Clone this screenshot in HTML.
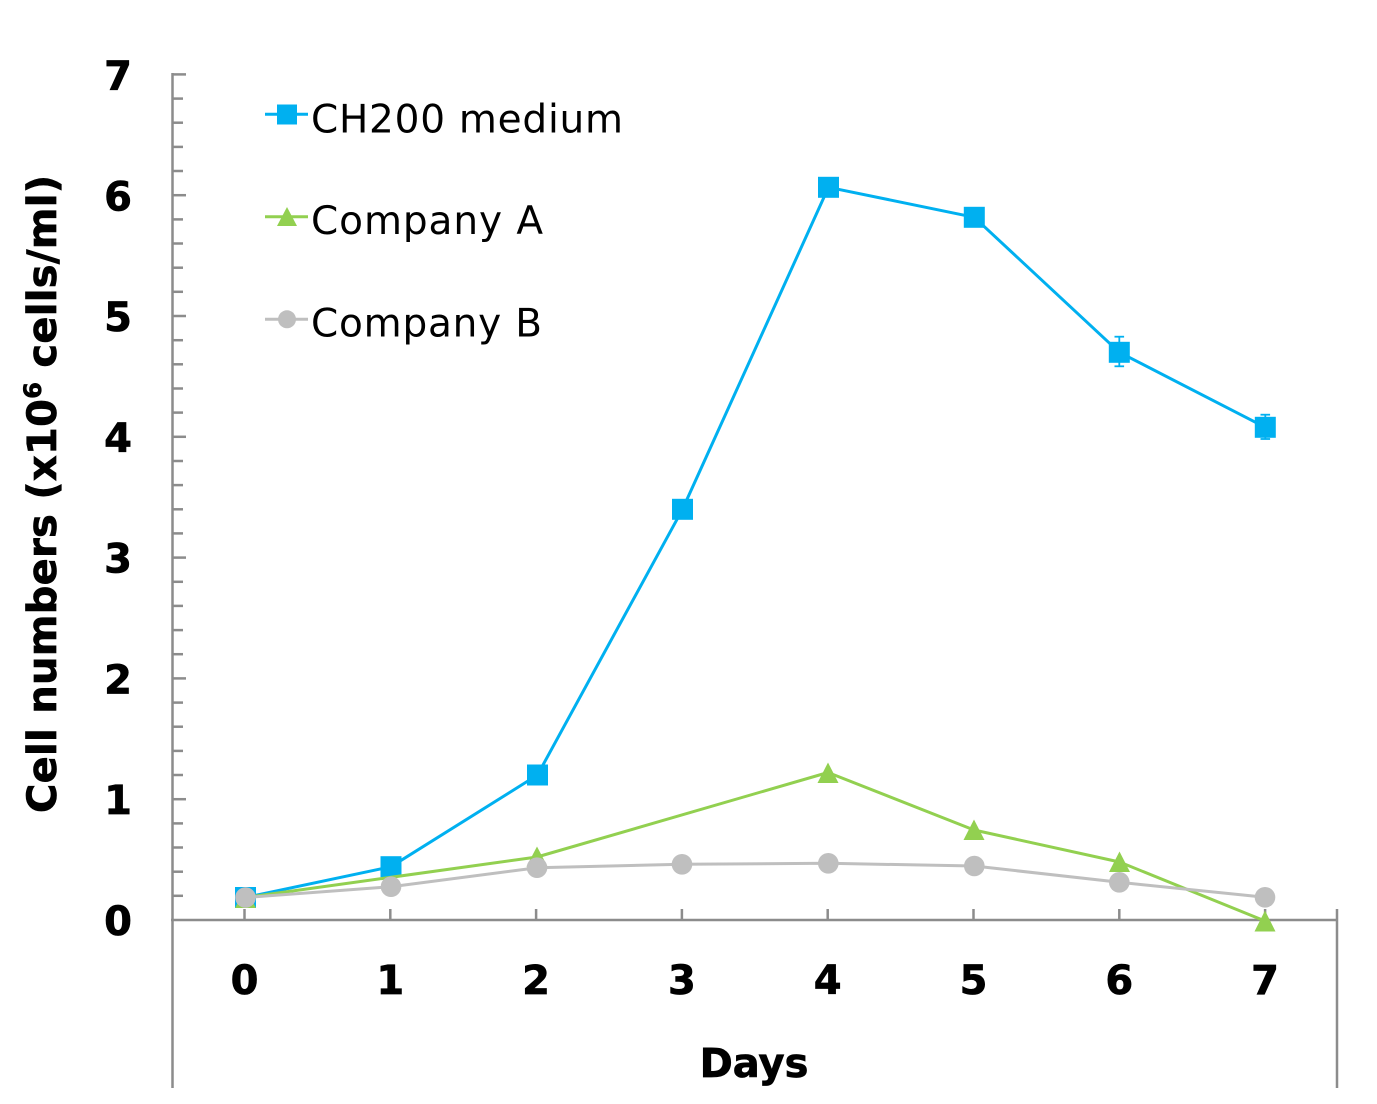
<!DOCTYPE html>
<html>
<head>
<meta charset="utf-8">
<style>
  html, body { margin: 0; padding: 0; background: #ffffff; }
  svg { display: block; }
  text { font-family: "DejaVu Sans", "Liberation Sans", sans-serif; fill: #000; }
  .b { font-weight: bold; font-size: 40px; stroke: #000; stroke-width: 0.7px; }
  .leg { font-size: 39px; }
</style>
</head>
<body>
<svg width="1377" height="1104" viewBox="0 0 1377 1104" xmlns="http://www.w3.org/2000/svg">
  <rect x="0" y="0" width="1377" height="1104" fill="#ffffff"/>

  <!-- Axes -->
  <g stroke="#8c8c8c" stroke-width="2.5" fill="none">
    <line x1="172.5" y1="73" x2="172.5" y2="1088"/>
    <line x1="171" y1="920" x2="1338" y2="920"/>
    <line x1="1337" y1="909" x2="1337" y2="1088"/>
    <!-- major y ticks -->
    <line x1="172" y1="74.4" x2="186" y2="74.4"/>
    <line x1="172" y1="195.2" x2="186" y2="195.2"/>
    <line x1="172" y1="316" x2="186" y2="316"/>
    <line x1="172" y1="436.8" x2="186" y2="436.8"/>
    <line x1="172" y1="557.6" x2="186" y2="557.6"/>
    <line x1="172" y1="678.4" x2="186" y2="678.4"/>
    <line x1="172" y1="799.2" x2="186" y2="799.2"/>
    <!-- minor y ticks -->
    <line x1="172" y1="98.6" x2="183" y2="98.6"/><line x1="172" y1="122.7" x2="183" y2="122.7"/><line x1="172" y1="146.9" x2="183" y2="146.9"/><line x1="172" y1="171.0" x2="183" y2="171.0"/>
    <line x1="172" y1="219.4" x2="183" y2="219.4"/><line x1="172" y1="243.5" x2="183" y2="243.5"/><line x1="172" y1="267.7" x2="183" y2="267.7"/><line x1="172" y1="291.8" x2="183" y2="291.8"/>
    <line x1="172" y1="340.2" x2="183" y2="340.2"/><line x1="172" y1="364.3" x2="183" y2="364.3"/><line x1="172" y1="388.5" x2="183" y2="388.5"/><line x1="172" y1="412.6" x2="183" y2="412.6"/>
    <line x1="172" y1="461.0" x2="183" y2="461.0"/><line x1="172" y1="485.1" x2="183" y2="485.1"/><line x1="172" y1="509.3" x2="183" y2="509.3"/><line x1="172" y1="533.4" x2="183" y2="533.4"/>
    <line x1="172" y1="581.8" x2="183" y2="581.8"/><line x1="172" y1="605.9" x2="183" y2="605.9"/><line x1="172" y1="630.1" x2="183" y2="630.1"/><line x1="172" y1="654.2" x2="183" y2="654.2"/>
    <line x1="172" y1="702.6" x2="183" y2="702.6"/><line x1="172" y1="726.7" x2="183" y2="726.7"/><line x1="172" y1="750.9" x2="183" y2="750.9"/><line x1="172" y1="775.0" x2="183" y2="775.0"/>
    <line x1="172" y1="823.4" x2="183" y2="823.4"/><line x1="172" y1="847.5" x2="183" y2="847.5"/><line x1="172" y1="871.7" x2="183" y2="871.7"/><line x1="172" y1="895.8" x2="183" y2="895.8"/>
    <!-- x ticks -->
    <line x1="244.5" y1="909" x2="244.5" y2="920"/>
    <line x1="390.3" y1="909" x2="390.3" y2="920"/>
    <line x1="536.1" y1="909" x2="536.1" y2="920"/>
    <line x1="681.9" y1="909" x2="681.9" y2="920"/>
    <line x1="827.7" y1="909" x2="827.7" y2="920"/>
    <line x1="973.5" y1="909" x2="973.5" y2="920"/>
    <line x1="1119.3" y1="909" x2="1119.3" y2="920"/>
    <line x1="1265.1" y1="909" x2="1265.1" y2="920"/>
  </g>

  <!-- Y tick labels -->
  <g text-anchor="end">
    <text class="b" x="132" y="89.5">7</text>
    <text class="b" x="132" y="210.3">6</text>
    <text class="b" x="132" y="331">5</text>
    <text class="b" x="132" y="451.8">4</text>
    <text class="b" x="132" y="572.6">3</text>
    <text class="b" x="132" y="693.4">2</text>
    <text class="b" x="132" y="814.2">1</text>
    <text class="b" x="132" y="935">0</text>
  </g>

  <!-- X tick labels -->
  <g text-anchor="middle">
    <text class="b" x="244.5" y="994">0</text>
    <text class="b" x="390.3" y="994">1</text>
    <text class="b" x="536.1" y="994">2</text>
    <text class="b" x="681.9" y="994">3</text>
    <text class="b" x="827.7" y="994">4</text>
    <text class="b" x="973.5" y="994">5</text>
    <text class="b" x="1119.3" y="994">6</text>
    <text class="b" x="1265.1" y="994">7</text>
  </g>

  <!-- Axis titles -->
  <text class="b" x="754" y="1077" text-anchor="middle">Days</text>
  <text class="b" transform="translate(56,813) rotate(-90)" x="0" y="0" textLength="638" lengthAdjust="spacing">Cell numbers (x10<tspan font-size="24" dy="-15">6</tspan><tspan dy="15"> cells/ml)</tspan></text>

  <!-- Blue series: CH200 medium -->
  <polyline fill="none" stroke="#00b0f0" stroke-width="3" stroke-linejoin="round"
    points="245.5,897.5 391,866.7 537.5,775 682.5,509.3 828.5,187.3 974.3,217.3 1119.3,352.3 1265.3,427.3"/>
  <g stroke="#00b0f0" stroke-width="1.8">
    <line x1="1119.3" y1="336.7" x2="1119.3" y2="366.3"/>
    <line x1="1114.5" y1="336.7" x2="1124.1" y2="336.7"/>
    <line x1="1114.5" y1="366.3" x2="1124.1" y2="366.3"/>
    <line x1="1265.3" y1="414.7" x2="1265.3" y2="439"/>
    <line x1="1260.5" y1="414.7" x2="1270.1" y2="414.7"/>
    <line x1="1260.5" y1="439" x2="1270.1" y2="439"/>
  </g>
  <g fill="#00b0f0">
    <rect x="235" y="887" width="21" height="21"/>
    <rect x="380.5" y="856.2" width="21" height="21"/>
    <rect x="527" y="764.5" width="21" height="21"/>
    <rect x="672" y="498.8" width="21" height="21"/>
    <rect x="818" y="176.8" width="21" height="21"/>
    <rect x="963.8" y="206.8" width="21" height="21"/>
    <rect x="1108.8" y="341.8" width="21" height="21"/>
    <rect x="1254.8" y="416.8" width="21" height="21"/>
  </g>

  <!-- Green series: Company A -->
  <polyline fill="none" stroke="#92d050" stroke-width="3" stroke-linejoin="round"
    points="245.5,897.5 537,857 828,772.5 974,830 1119.5,862 1265,921"/>
  <g fill="#92d050">
    <polygon points="245.5,888 256,908 235,908"/>
    <polygon points="537,846.5 547.5,866.5 526.5,866.5"/>
    <polygon points="828,762.5 838.5,783 817.5,783"/>
    <polygon points="974,819.5 984.5,840 963.5,840"/>
    <polygon points="1119.5,851.5 1130,872 1109,872"/>
    <polygon points="1265,910.5 1275.5,931.5 1254.5,931.5"/>
  </g>

  <!-- Gray series: Company B -->
  <polyline fill="none" stroke="#bfbfbf" stroke-width="3" stroke-linejoin="round"
    points="245.5,897.5 391,886.7 537,867.7 682,864.3 828.3,863.3 974.3,866 1119.3,882.3 1265,897.3"/>
  <g fill="#bfbfbf">
    <circle cx="245.5" cy="897.5" r="10.3"/>
    <circle cx="391" cy="886.7" r="10.3"/>
    <circle cx="537" cy="867.7" r="10.3"/>
    <circle cx="682" cy="864.3" r="10.3"/>
    <circle cx="828.3" cy="863.3" r="10.3"/>
    <circle cx="974.3" cy="866" r="10.3"/>
    <circle cx="1119.3" cy="882.3" r="10.3"/>
    <circle cx="1265" cy="897.3" r="10.3"/>
  </g>

  <!-- Legend -->
  <line x1="265" y1="114.3" x2="308" y2="114.3" stroke="#00b0f0" stroke-width="3"/>
  <rect x="277" y="104.5" width="20" height="20" fill="#00b0f0"/>
  <text class="leg" x="311" y="132.3" textLength="312" lengthAdjust="spacing">CH200 medium</text>

  <line x1="265" y1="216.7" x2="308" y2="216.7" stroke="#92d050" stroke-width="3"/>
  <polygon points="287,207 297,226 277,226" fill="#92d050"/>
  <text class="leg" x="311" y="234" textLength="232" lengthAdjust="spacing">Company A</text>

  <line x1="265" y1="319.3" x2="308" y2="319.3" stroke="#bfbfbf" stroke-width="3"/>
  <circle cx="287" cy="319.3" r="9" fill="#bfbfbf"/>
  <text class="leg" x="311" y="336.5" textLength="231" lengthAdjust="spacing">Company B</text>
</svg>
</body>
</html>
